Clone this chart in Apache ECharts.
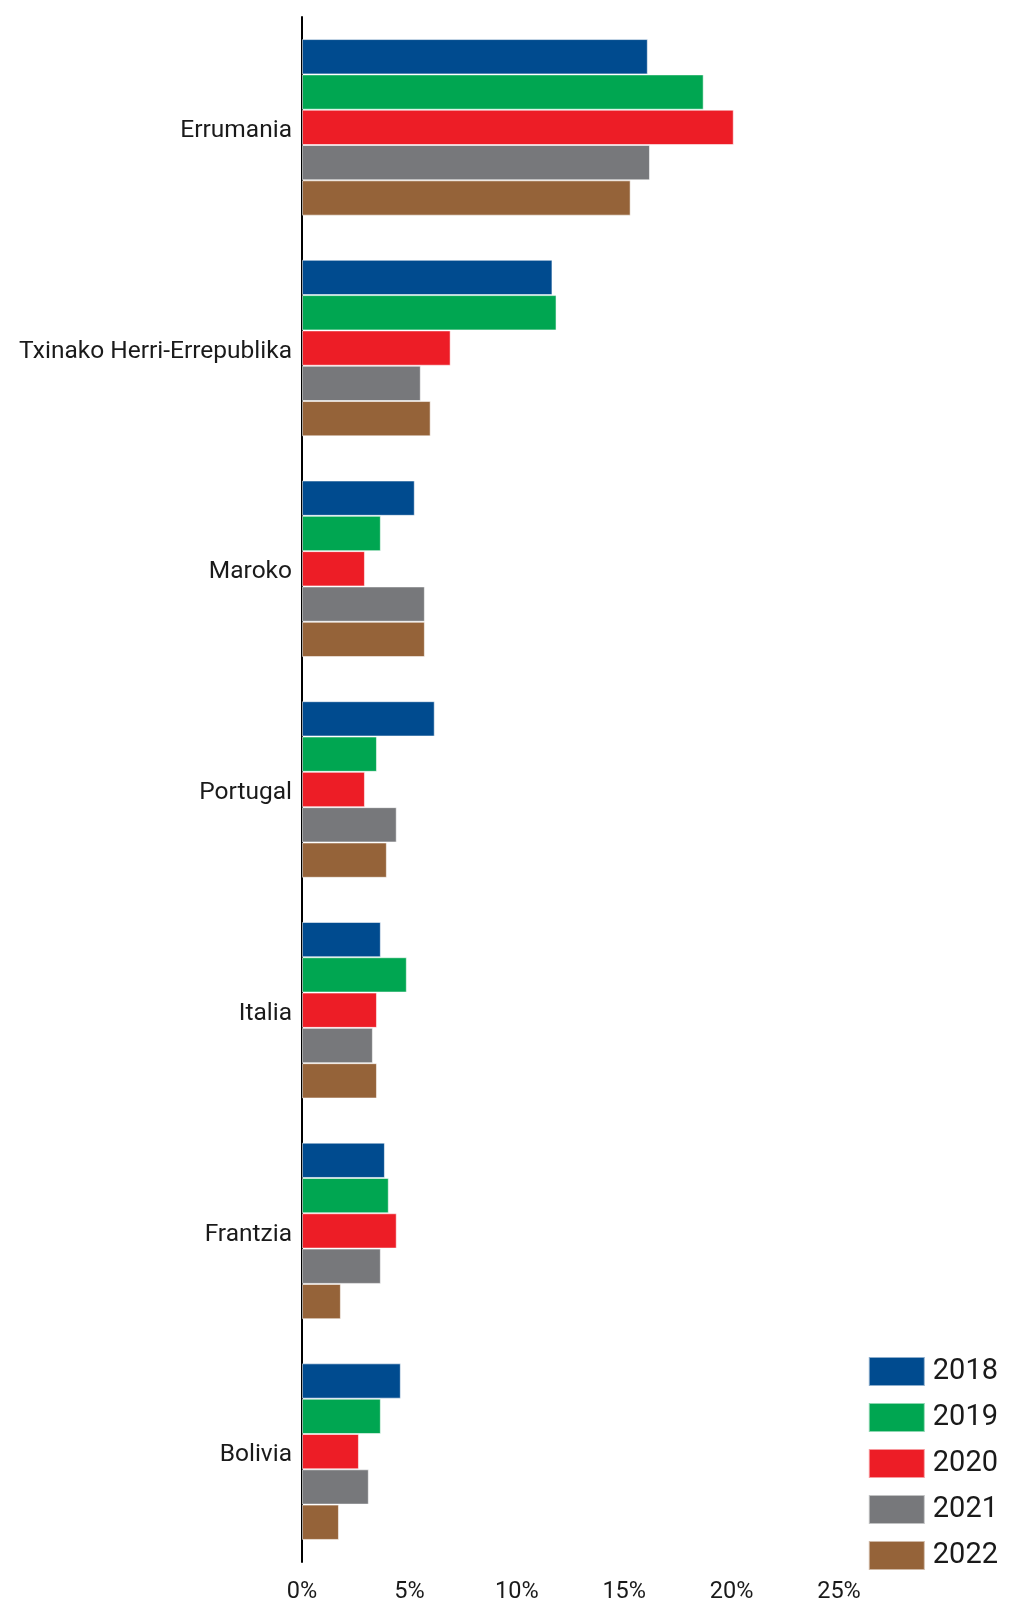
<!DOCTYPE html>
<html>
<head>
<meta charset="utf-8">
<script src="https://cdn.jsdelivr.net/npm/echarts@6/dist/echarts.min.js"></script>
<style>
html,body{margin:0;padding:0;background:#fff;}
#chart{width:1023px;height:1604px;}
</style>
</head>
<body>
<div id="chart"></div>
<script>
const categories = ['Errumania', 'Txinako Herri-Errepublika', 'Maroko', 'Portugal', 'Italia', 'Frantzia', 'Bolivia'];
const years = ['2018', '2019', '2020', '2021', '2022'];
const v2018 = [16.1, 11.66, 5.25, 6.18, 3.67, 3.86, 4.6];
const v2019 = [18.7, 11.85, 3.67, 3.49, 4.88, 4.04, 3.67];
const v2020 = [20.1, 6.92, 2.93, 2.93, 3.49, 4.41, 2.65];
const v2021 = [16.2, 5.53, 5.72, 4.41, 3.3, 3.67, 3.11];
const v2022 = [15.3, 5.99, 5.72, 3.95, 3.49, 1.81, 1.72];
const xTicks = [0, 5, 10, 15, 20, 25];
const colors = ['#004b8f', '#00a651', '#ed1d26', '#77787b', '#956339'];
const seriesValues = [v2018, v2019, v2020, v2021, v2022];

const chart = echarts.init(document.getElementById('chart'));
chart.setOption({
  animation: false,
  backgroundColor: '#ffffff',
  textStyle: { fontFamily: 'Roboto' },
  grid: { left: 302, right: 184, top: 17, bottom: 38, containLabel: false },
  legend: {
    orient: 'vertical',
    right: 20,
    top: 1351,
    itemWidth: 56,
    itemHeight: 29,
    itemGap: 15,
    icon: 'rect',
    data: years,
    textStyle: { fontSize: 29, lineHeight: 29, color: '#1a1a1a', fontFamily: 'Roboto', padding: [0, 0, 0, 3] }
  },
  xAxis: {
    type: 'value',
    min: xTicks[0],
    max: xTicks[xTicks.length - 1],
    interval: 5,
    axisLine: { show: false },
    axisTick: { show: false },
    splitLine: { show: false },
    axisLabel: { formatter: '{value}%', fontSize: 23.5, color: '#1a1a1a', margin: 18, fontFamily: 'Roboto' }
  },
  yAxis: {
    type: 'category',
    inverse: true,
    data: categories,
    axisLine: { show: true, lineStyle: { color: '#000', width: 2 } },
    axisTick: { show: false },
    axisLabel: {
      margin: 10,
      formatter: (v) => '{c|' + v + '}',
      rich: { c: { fontSize: 24.5, color: '#1a1a1a', fontFamily: 'Roboto', padding: [7, 0, 0, 0] } }
    }
  },
  series: years.map((y, i) => ({
    name: y,
    type: 'bar',
    data: seriesValues[i],
    barGap: '0%',
    barCategoryGap: '20%',
    itemStyle: { color: colors[i], borderColor: 'rgba(255,255,255,0.55)', borderWidth: 1 }
  }))
});
</script>
</body>
</html>
